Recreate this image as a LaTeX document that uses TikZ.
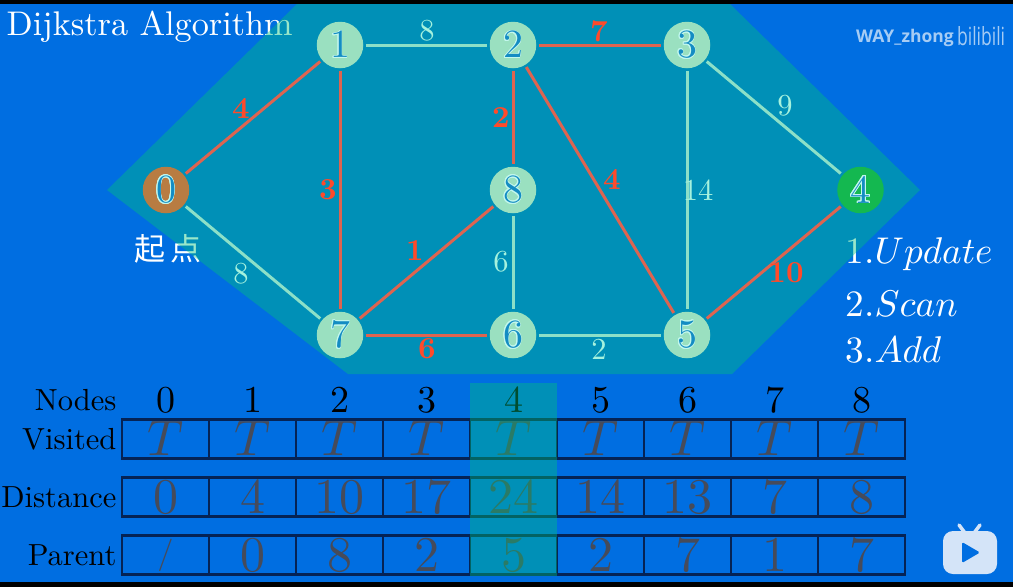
\documentclass[tikz,border=0pt]{standalone}
\usepackage{fontspec}
\usepackage{tikz}
\usepackage{contour}
\usetikzlibrary{positioning,calc}
\newfontfamily\cjk{Noto Sans CJK SC}
\newfontfamily\markfont{Open Sans}
\contourlength{0.22pt}
\definecolor{screenblue}{RGB}{0,110,225}
\definecolor{overlaygreen}{RGB}{0,195,122}
\definecolor{nodegreen}{RGB}{154,224,192}
\definecolor{startbrown}{RGB}{184,124,66}
\definecolor{goalgreen}{RGB}{20,184,80}
\definecolor{pathred}{RGB}{222,100,80}
\definecolor{plainline}{RGB}{140,224,200}
\definecolor{redtext}{RGB}{255,74,42}
\definecolor{plaintext}{RGB}{165,242,222}
\definecolor{digitblue}{RGB}{20,140,195}
\definecolor{digitedge}{RGB}{195,248,238}
\definecolor{cellline}{RGB}{5,35,85}
\definecolor{celltext}{RGB}{70,75,90}
\definecolor{logoblue}{RGB}{212,228,248}
\newcommand{\nodenum}[1]{\contour{digitedge}{#1}}
\begin{document}
\begin{tikzpicture}[
    x=1pt, y=-1pt,
    vertex/.style={circle, fill=nodegreen, minimum size=46.5pt, inner sep=0pt, outer sep=2.5pt},
    vertexnum/.style={scale=4, transform shape, inner sep=0pt, text=digitblue},
    plain edge/.style={draw=plainline, line width=3pt},
    red edge/.style={draw=pathred, line width=3pt},
    plain lbl/.style={scale=3.05, transform shape, text=plaintext, inner sep=0pt},
    red lbl/.style={scale=3.05, transform shape, text=redtext, inner sep=0pt, font=\bfseries},
    rowlbl/.style={scale=3.05, transform shape, anchor=base east, inner sep=0pt},
    cell/.style={scale=5, transform shape, draw=cellline, line width=2.8pt, minimum width=17.4pt, minimum height=7.9pt, inner sep=0pt, text height=6.44pt, text depth=0pt, text=celltext},
    headlbl/.style={scale=3.8, transform shape, inner sep=0pt},
    steplbl/.style={scale=3.72, transform shape, anchor=base west, inner sep=0pt, text=white}
]
\useasboundingbox (0,0) rectangle (1013,587);
\fill[screenblue] (0,0) rectangle (1013,587);

% Texts under the overlay
\node[scale=3.42, transform shape, anchor=base west, inner sep=0pt, text=white] (title) at (6,35) {Dijkstra Algorithm};
\node[inner sep=0pt, text=white, font=\fontsize{31}{31}\cjk] (start) at (168,249) {起\,点};
\node[steplbl] (update) at (845,263) {1.$Update$};

% Table
\foreach \c [count=\i from 0] in {0,...,8} {
    \node[headlbl] (head\i) at (166+87*\i,400) {\c};
}
\foreach \c [count=\i from 0] in {T,T,T,T,T,T,T,T,T} {
    \node[cell] (vis\i) at (165.5+87*\i,439) {$\c$};
}
\foreach \c [count=\i from 0] in {0,4,10,17,24,14,13,7,8} {
    \node[cell] (dist\i) at (165.5+87*\i,497) {\c};
}
\foreach \c [count=\i from 0] in {\raisebox{1.6pt}{\scalebox{0.65}{/}},0,8,2,5,2,7,1,7} {
    \node[cell] (par\i) at (165.5+87*\i,555) {\c};
}
\node[rowlbl] (nodes) at (117,410) {Nodes};
\node[rowlbl] (visited) at (117,449) {Visited};
\node[rowlbl] (distance) at (117,507) {Distance};
\node[rowlbl] (parent) at (117,565) {Parent};

% Green overlays
\fill[overlaygreen, opacity=0.4] (107,190) -- (297,4) -- (730,4) -- (920,190) -- (732,374) -- (348,374) -- cycle;
\fill[overlaygreen, opacity=0.4] (470,383) rectangle (556.5,576);

% Graph
\node[vertex, fill=startbrown] (n0) at (166,190) {};
\node[vertex] (n1) at (340,45) {};
\node[vertex] (n2) at (513,45) {};
\node[vertex] (n3) at (687,45) {};
\node[vertex, fill=goalgreen] (n4) at (860.5,190) {};
\node[vertex] (n5) at (687,335) {};
\node[vertex] (n6) at (513,335) {};
\node[vertex] (n7) at (340,335) {};
\node[vertex] (n8) at (513,190) {};
\foreach \i in {0,...,8} {
    \node[vertexnum] (num\i) at (n\i) {\nodenum{\i}};
}

\foreach \a/\b/\kind/\lx/\ly/\w in {
    0/1/red/241/108/4, 1/7/red/328/190/3, 2/3/red/599/31/7, 2/8/red/501/118/2,
    2/5/red/612/179/4, 7/8/red/415/251/1, 7/6/red/427/349/6, 5/4/red/786/273/10,
    1/2/plain/427/31/8, 0/7/plain/241/274/8, 3/5/plain/698/190/14,
    3/4/plain/785/106/9, 8/6/plain/501/262/6, 6/5/plain/599/349/2} {
    \draw[\kind\space edge] (n\a) -- (n\b);
    \node[\kind\space lbl] (w\a\b) at (\lx,\ly) {\w};
}

% Steps beside the graph
\node[steplbl] (scan) at (845,316) {2.$Scan$};
\node[steplbl] (add) at (845,362) {3.$Add$};

% Watermark
\node[anchor=base west, inner sep=0pt, text=white, opacity=0.65, font=\fontsize{17.5}{18}\markfont\bfseries] (mark) at (856,42) {WAY\_zhong};
\node[xscale=0.7, transform shape, anchor=base west, inner sep=0pt, text=white, opacity=0.65, font=\fontsize{25}{25}\markfont] (site) at (957,45) {bilibili};

% Black bars
\fill[black] (0,0) rectangle (1013,3.5);
\fill[black] (0,581.5) rectangle (1013,587);

% Player icon
\fill[logoblue, rounded corners=10pt] (943,531) rectangle (997,574);
\draw[logoblue, line width=3.5pt, line cap=round] (959,525) -- (965,533) (980,525) -- (974,533);
\fill[screenblue, rounded corners=1.5pt] (962,542) -- (980,552.5) -- (962,563) -- cycle;
\end{tikzpicture}
\end{document}
